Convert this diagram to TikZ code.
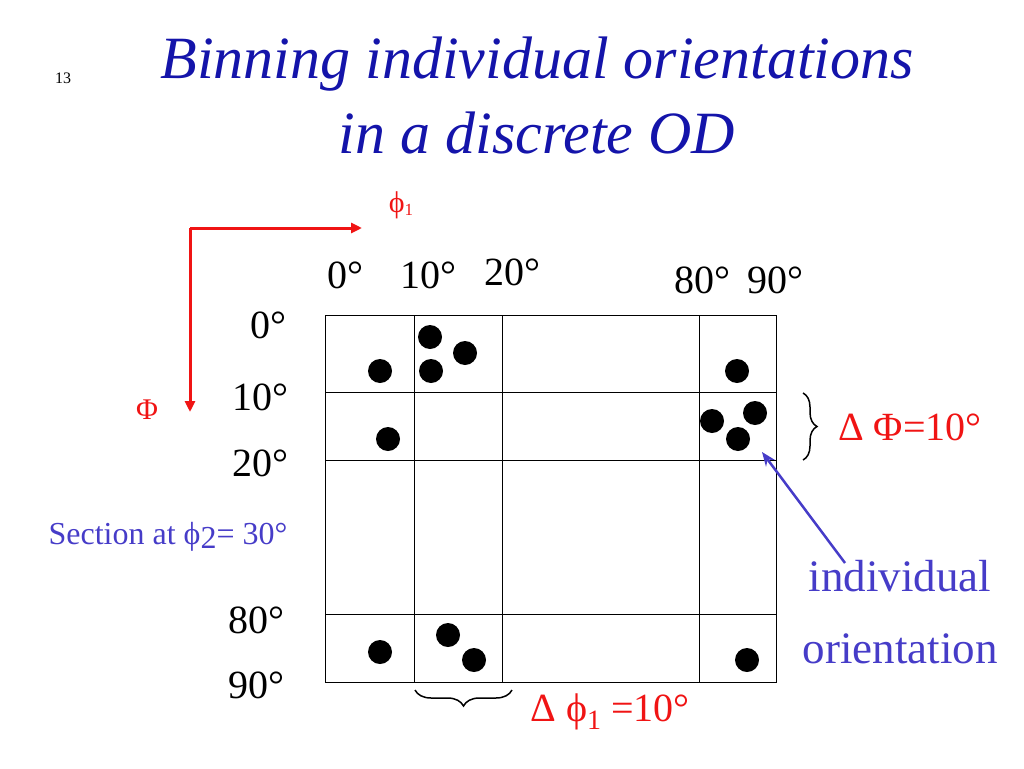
\documentclass[tikz,border=0pt]{standalone}
\usepackage{fontspec}
\setmainfont{Liberation Serif}
\usetikzlibrary{decorations.pathreplacing,arrows.meta}
\definecolor{tblue}{RGB}{20,20,170}
\definecolor{pblue}{RGB}{70,60,200}
\definecolor{tred}{RGB}{240,20,20}
\tikzset{x=1pt,y=-1pt,
 dot/.style={circle,fill=black,minimum size=24pt,inner sep=0pt},
 lab/.style={font=\fontsize{40}{44}\selectfont,inner sep=0pt},
 grid/.style={line width=0.8pt}}
\begin{document}
\begin{tikzpicture}
\useasboundingbox (0,0) rectangle (1024,768);
\node[font=\fontsize{60}{75}\selectfont\itshape,text=tblue,align=center] (t) at (537,95) {Binning individual orientations\\in a discrete OD};
\node[font=\fontsize{16}{18}\selectfont] (n) at (63,78) {13};
% axes
\coordinate (c) at (190,228); \coordinate (xr) at (362,228); \coordinate (yd) at (190,412);
\draw[tred,line width=3pt,-{Triangle[length=11pt,width=10pt]}] (c) -- (xr);
\draw[tred,line width=3pt,-{Triangle[length=11pt,width=10pt]}] (c) -- (yd);
\node[text=tred,font=\fontsize{30}{32}\selectfont] (p1) at (401,205) {ϕ\raisebox{-3pt}{\fontsize{17}{18}\selectfont 1}};
\node[text=tred,font=\fontsize{30}{32}\selectfont] (P) at (147,410) {Φ};
% grid
\draw[grid] (325,315) rectangle (776,682);
\foreach \x in {414,502,699} \draw[grid] (\x,315) -- (\x,682);
\foreach \y in {392,460,614} \draw[grid] (325,\y) -- (776,\y);
\foreach \p in {(380,371),(430,337),(431,371),(465,353),(737,371),(388,439),(712,421),(755,413),(738,439),(380,652),(448,635),(474,660),(747,660)} \node[dot] at \p {};
% labels
\node[lab] at (345,275) {0°};
\node[lab] at (428,275) {10°};
\node[lab] at (512,272) {20°};
\node[lab] at (702,280) {80°};
\node[lab] at (775,280) {90°};
\node[lab] at (268,325) {0°};
\node[lab] at (260,397) {10°};
\node[lab] at (260,463) {20°};
\node[lab] at (256,620) {80°};
\node[lab] at (256,685) {90°};
\node[text=pblue,font=\fontsize{32}{34}\selectfont] (sec) at (168,537) {Section at ϕ\raisebox{-4pt}{2}= 30°};
% braces
\coordinate (b1) at (803,393); \coordinate (b2) at (803,460);
\draw[line width=1.5pt,decorate,decoration={brace,amplitude=14pt}] (b1) -- (b2);
\node[text=tred,font=\fontsize{40}{44}\selectfont] (dP) at (910,427) {Δ Φ=10°};
\coordinate (b3) at (512,690); \coordinate (b4) at (415,690);
\draw[line width=1.5pt,decorate,decoration={brace,amplitude=16pt}] (b3) -- (b4);
\node[text=tred,font=\fontsize{40}{44}\selectfont] (dp) at (610,712) {Δ ϕ\raisebox{-8pt}{\fontsize{28}{30}\selectfont 1} =10°};
% individual orientation
\node[text=pblue,font=\fontsize{45}{72}\selectfont,align=center] (io) at (900,612) {individual\\orientation};
\coordinate (as) at (845,563); \coordinate (ae) at (762,452);
\draw[pblue,line width=2.5pt,-{Stealth[length=14pt,width=11pt]}] (as) -- (ae);
\end{tikzpicture}
\end{document}
